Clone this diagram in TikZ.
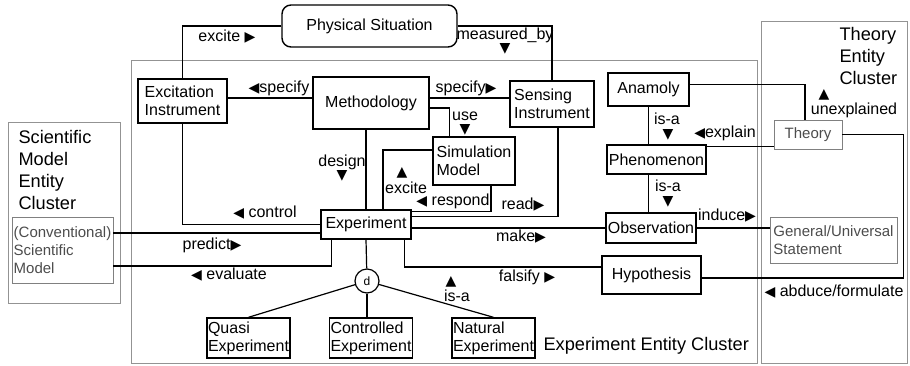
\documentclass[tikz,border=0pt]{standalone}
\usepackage{fontspec}
\setmainfont{Liberation Sans}
\newfontfamily\symfont{DejaVu Sans}
\newcommand{\rtri}{{\symfont\fontsize{14}{14}\selectfont ▶}}
\newcommand{\ltri}{{\symfont\fontsize{14}{14}\selectfont ◀}}
\newcommand{\utri}{{\symfont\fontsize{14}{14}\selectfont ▲}}
\newcommand{\dtri}{{\symfont\fontsize{14}{14}\selectfont ▼}}
\begin{document}
\begin{tikzpicture}[x=1pt, y=-1pt, font=\fontsize{16}{18}\selectfont,
    ent/.style={draw, line width=1.4pt, inner sep=1pt, align=left},
    soft/.style={draw=gray, line width=0.9pt, inner sep=1pt, align=left, text=black!70, font=\fontsize{15}{18}\selectfont},
    cluster/.style={draw=gray!85, line width=0.9pt},
    title/.style={font=\fontsize{18.2}{22}\selectfont, align=left, anchor=west},
    rel/.style={line width=1.2pt},
    lbl/.style={inner sep=0pt}]
    \useasboundingbox (0,0) rectangle (910,365);

    \draw[cluster] (8,122) rectangle (120,303);
    \draw[cluster] (131,60) rectangle (757,363);
    \draw[cluster] (761,21) rectangle (907,363);

    \node (sm_title) at (15,170) [title] {Scientific\\Model\\Entity\\Cluster};
    \node (th_title) at (836,56) [title] {Theory\\Entity\\Cluster};
    \node (ex_title) at (540,346) [title] {Experiment Entity Cluster};

    \node (phys) at (369.5,26) [ent, rounded corners=9pt, minimum width=175pt, minimum height=42pt] {Physical Situation};
    \node (excit) at (182.5,101) [ent, minimum width=89pt, minimum height=44pt] {Excitation\\Instrument};
    \node (meth) at (371,103) [ent, minimum width=116pt, minimum height=52pt] {Methodology};
    \node (sens) at (552,104) [ent, minimum width=84pt, minimum height=46pt] {Sensing\\Instrument};
    \node (sim) at (474,161) [ent, minimum width=82pt, minimum height=48pt] {Simulation\\Model};
    \node (exp) at (366,224.5) [ent, minimum width=90pt, minimum height=29pt] {Experiment};
    \node (d) at (367,281) [circle, draw, line width=1.2pt, inner sep=0pt, minimum size=24pt, font=\fontsize{12}{12}\selectfont] {d};
    \node (quasi) at (248.5,338) [ent, minimum width=83pt, minimum height=40pt] {Quasi\\Experiment};
    \node (ctrl) at (371,338) [ent, minimum width=82pt, minimum height=40pt] {Controlled\\Experiment};
    \node (nat) at (493.5,338) [ent, minimum width=81pt, minimum height=40pt] {Natural\\Experiment};
    \node (anam) at (648.5,89.5) [ent, minimum width=81pt, minimum height=33pt] {Anamoly};
    \node (phen) at (656.5,159.5) [ent, minimum width=99pt, minimum height=29pt] {Phenomenon};
    \node (obs) at (651,228) [ent, minimum width=90pt, minimum height=30pt] {Observation};
    \node (hyp) at (651.5,275) [ent, minimum width=99pt, minimum height=38pt] {Hypothesis};
    \node (theory) at (808,134.5) [soft, minimum width=68pt, minimum height=29pt] {Theory};
    \node (gen) at (833.5,240) [soft, minimum width=127pt, minimum height=46pt] {General/Universal\\Statement};
    \node (conv) at (62.5,250) [soft, minimum width=101pt, minimum height=66pt] {(Conventional)\\Scientific\\Model};

    \draw[rel] (phys.west) -| (excit.north);
    \draw[rel] (phys.east) -| (sens.north);
    \draw[rel] ([yshift=5pt]meth.west) -- ([yshift=5pt]meth.west -| excit.east);
    \draw[rel] ([yshift=5pt]meth.east) -- ([yshift=5pt]meth.east -| sens.west);
    \draw[rel] ([yshift=-5pt]meth.east) -| ([xshift=17pt]sim.north west);
    \draw[rel] (exp.north) -- (exp.north |- meth.south);
    \draw[rel] ([yshift=11pt]sim.west) -| ([xshift=17pt]exp.north);
    \draw[rel] ([xshift=17pt]sim.south) |- ([yshift=-2pt]exp.north east);
    \draw[rel] ([yshift=-7pt]exp.north east) -| ([xshift=6pt]sens.south);
    \draw[rel] (excit.south) |- (exp.west);
    \draw[rel] ([yshift=-8.5pt]exp.west) -- ([yshift=-8.5pt]exp.west -| conv.east);
    \draw[rel] ([yshift=-16pt]conv.east) -| ([xshift=11pt]exp.south west);
    \draw[rel] (exp.east |- obs.west) -- (obs.west);
    \draw[rel] ([xshift=-7pt]exp.south east) |- ([yshift=8pt]hyp.west);
    \draw[rel] (exp.south) -- (d);
    \draw[rel] (d) -- (quasi.north);
    \draw[rel] (d) -- (d |- ctrl.north);
    \draw[rel] (d) -- (nat.north);
    \draw[rel] (anam.south) -- (anam.south |- phen.north);
    \draw[rel] (anam.south |- phen.south) -- (anam.south |- obs.north);
    \draw[rel] ([yshift=-12pt]theory.west) -- ([yshift=-12pt]theory.west -| phen.east);
    \draw[rel] ([yshift=5pt]anam.east) -| ([xshift=-3pt]theory.north);
    \draw[rel] ([yshift=-3pt]hyp.east) -| ([xshift=61pt]theory.east) -- (theory.east);
    \draw[rel] (obs.east) -- (obs.east -| gen.west);

    \node (excite_lbl) at (227,37) [lbl] {excite \rtri};
    \node (spec_l_lbl) at (279,88) [lbl] {\ltri specify};
    \node (spec_r_lbl) at (466,88) [lbl] {specify\rtri};
    \node (meas_lbl) at (505,35) [lbl] {measured\_by};
    \node (meas_tri) at (505,49) [lbl] {\dtri};
    \node (use_lbl) at (465,116) [lbl] {use};
    \node (use_tri) at (465,130) [lbl] {\dtri};
    \node (design_lbl) at (342,162) [lbl] {design};
    \node (design_tri) at (342,176) [lbl] {\dtri};
    \node (exc_tri) at (402,173) [lbl] {\utri};
    \node (exc_lbl) at (406,188) [lbl] {excite};
    \node (resp_lbl) at (453,201) [lbl] {\ltri{} respond};
    \node (read_lbl) at (523,205) [lbl] {read\rtri};
    \node (ctrl_lbl) at (265,213) [lbl] {\ltri{} control};
    \node (pred_lbl) at (212,245) [lbl] {predict\rtri};
    \node (eval_lbl) at (229,275) [lbl] {\ltri{} evaluate};
    \node (make_lbl) at (521,237) [lbl] {make\rtri};
    \node (fals_lbl) at (527,277) [lbl] {falsify \rtri};
    \node (isa_tri) at (451,282) [lbl] {\utri};
    \node (isa_lbl) at (457,296) [lbl] {is-a};
    \node (isa1_lbl) at (667,119) [lbl] {is-a};
    \node (isa1_tri) at (668,135) [lbl] {\dtri};
    \node (expl_lbl) at (725,133) [lbl] {\ltri explain};
    \node (unex_tri) at (824,95) [lbl] {\utri};
    \node (unex_lbl) at (854,110) [lbl] {unexplained};
    \node (isa2_lbl) at (668,186) [lbl] {is-a};
    \node (isa2_tri) at (668,202) [lbl] {\dtri};
    \node (ind_lbl) at (727,216) [lbl] {induce\rtri};
    \node (abd_lbl) at (834,292) [lbl] {\ltri{} abduce/formulate};
\end{tikzpicture}
\end{document}
